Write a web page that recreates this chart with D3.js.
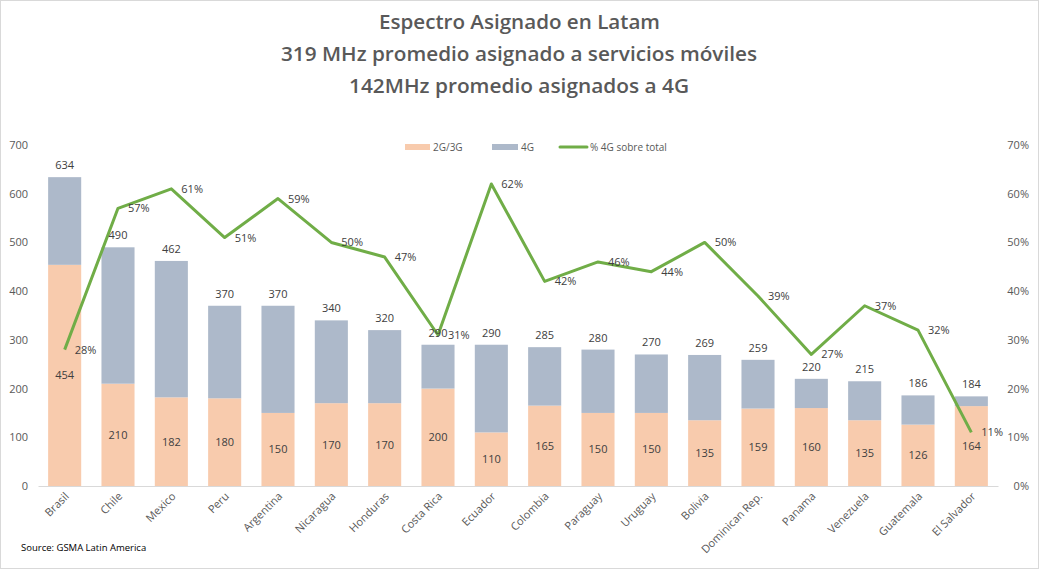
<!DOCTYPE html>
<html><head><meta charset="utf-8">
<script src="https://cdn.jsdelivr.net/npm/d3@7"></script>
<style>body{margin:0;background:#fff}svg{display:block}text{font-family:"Open Sans",sans-serif}</style>
</head><body><svg id="c" width="1039" height="569"></svg>
<script>
const categories=["Brasil","Chile","Mexico","Peru","Argentina","Nicaragua","Honduras","Costa Rica","Ecuador","Colombia","Paraguay","Uruguay","Bolivia","Dominican Rep.","Panama","Venezuela","Guatemala","El Salvador"];
const totals=[634,490,462,370,370,340,320,290,290,285,280,270,269,259,220,215,186,184];
const g23=[454,210,182,180,150,170,170,200,110,165,150,150,135,159,160,135,126,164];
const pct4g=[0.28,0.57,0.61,0.51,0.59,0.50,0.47,0.31,0.62,0.42,0.46,0.44,0.50,0.39,0.27,0.37,0.32,0.11];
const leftTicks=[0,100,200,300,400,500,600,700];
const rightTicks=[0,0.1,0.2,0.3,0.4,0.5,0.6,0.7];
const titles=["Espectro Asignado en Latam","319 MHz promedio asignado a servicios móviles","142MHz promedio asignados a 4G"];

const svg=d3.select("#c");
svg.append("rect").attr("x",0.5).attr("y",0.5).attr("width",1038).attr("height",568).attr("fill","#fff").attr("stroke","#d9d9d9");

const L=38,R=998,T=145,B=486;
const x=d3.scaleBand().domain(categories).range([L,R]).paddingInner(0.38).paddingOuter(0.19);
const y=d3.scaleLinear().domain([0,700]).range([B,T]);
const y2=d3.scaleLinear().domain([0,0.7]).range([B,T]);

const txt="#595959";
const tl=[[379,660],[281,757],[349,689]];
titles.forEach((t,i)=>{
  svg.append("text").attr("x",(tl[i][0]+tl[i][1])/2).attr("y",29+i*32).attr("text-anchor","middle")
   .attr("font-size",20).attr("font-weight",600).attr("fill",txt)
   .attr("textLength",tl[i][1]-tl[i][0]).attr("lengthAdjust","spacingAndGlyphs").text(t);
});

const ax=svg.append("g").attr("transform",`translate(${L-10},0)`)
 .call(d3.axisLeft(y).tickValues(leftTicks).tickSize(0).tickPadding(0));
ax.select(".domain").remove();
ax.selectAll("text").attr("font-size",11).attr("fill",txt).attr("font-family","Open Sans");
const ax2=svg.append("g").attr("transform",`translate(1029,0)`)
 .call(d3.axisLeft(y2).tickValues(rightTicks).tickFormat(d3.format(".0%")).tickSize(0).tickPadding(0));
ax2.select(".domain").remove();
ax2.selectAll("text").attr("font-size",11).attr("fill",txt).attr("font-family","Open Sans");

const data=categories.map((c,i)=>({c,t:totals[i],a:g23[i],b:totals[i]-g23[i],p:pct4g[i]}));
svg.selectAll(".b1").data(data).enter().append("rect")
 .attr("x",d=>x(d.c)).attr("width",x.bandwidth()).attr("y",d=>y(d.a)).attr("height",d=>B-y(d.a)).attr("fill","#F8CBAD");
svg.selectAll(".b2").data(data).enter().append("rect")
 .attr("x",d=>x(d.c)).attr("width",x.bandwidth()).attr("y",d=>y(d.t)).attr("height",d=>y(d.a)-y(d.t)).attr("fill","#ADB9CA");

const xa=svg.append("g").attr("transform",`translate(0,${B})`).call(d3.axisBottom(x).tickSize(0).tickPadding(0));
xa.select(".domain").attr("stroke","#d9d9d9");
xa.selectAll("text").attr("font-size",11).attr("fill",txt).attr("font-family","Open Sans")
 .attr("text-anchor","end").attr("dy",0).attr("transform","translate(5,11) rotate(-45)");

const cx=d=>x(d.c)+x.bandwidth()/2;
svg.append("path").datum(data).attr("fill","none").attr("stroke","#70AD47").attr("stroke-width",3).attr("stroke-linejoin","round")
 .attr("d",d3.line().x(cx).y(d=>y2(d.p)));

const lab="#404040";
svg.selectAll(".lt").data(data).enter().append("text").attr("x",cx).attr("y",d=>y(d.t)-8)
 .attr("text-anchor","middle").attr("font-size",11).attr("fill",lab).text(d=>d.t);
svg.selectAll(".la").data(data).enter().append("text").attr("x",cx).attr("y",d=>(y(d.a)+B)/2+4)
 .attr("text-anchor","middle").attr("font-size",11).attr("fill",lab).text(d=>d.a);
svg.selectAll(".lp").data(data).enter().append("text").attr("x",d=>cx(d)+10).attr("y",d=>y2(d.p)+4)
 .attr("font-size",11).attr("fill",lab).text(d=>d3.format(".0%")(d.p));

const lg=svg.append("g").attr("font-size",10).attr("fill",txt);
lg.append("rect").attr("x",405).attr("y",144).attr("width",25).attr("height",6).attr("fill","#F8CBAD");
lg.append("text").attr("x",433).attr("y",151).text("2G/3G");
lg.append("rect").attr("x",492).attr("y",144).attr("width",26).attr("height",6).attr("fill","#ADB9CA");
lg.append("text").attr("x",521).attr("y",151).text("4G");
lg.append("line").attr("x1",560).attr("x2",587).attr("y1",147).attr("y2",147).attr("stroke","#70AD47").attr("stroke-width",3).attr("stroke-linecap","round");
lg.append("text").attr("x",590).attr("y",151).text("% 4G sobre total");

svg.append("text").attr("x",21).attr("y",551).attr("font-size",9.5).attr("fill","#000").text("Source: GSMA Latin America");
</script></body></html>
